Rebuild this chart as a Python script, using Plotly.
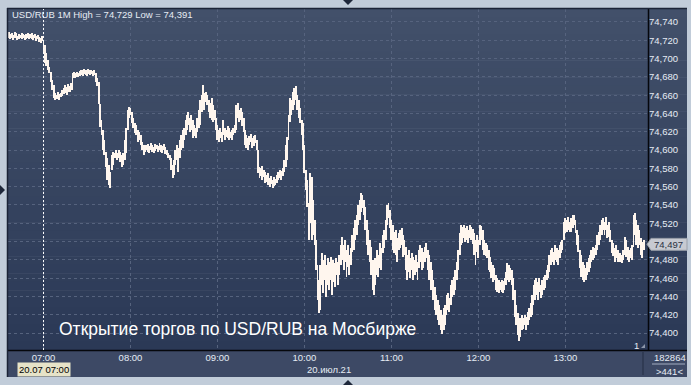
import plotly.graph_objects as go
import pandas as pd

# ---------------- data ----------------
START = "2021-07-20 06:36"          # first 1-minute bar
CURSOR_TIME = "2021-07-20 07:00"    # session open marker
TITLE = "USD/RUB 1M High = 74,729 Low = 74,391"
CAPTION = "Открытие торгов по USD/RUB на Мосбирже"
DATE_TEXT = "20.июл.21"
CURSOR_TEXT = "20.07 07:00"
VOLUME_TEXT = "182864"
COUNT_TEXT = ">441<"
LAST_PRICE = 74.497
LAST_TEXT = "74,497"

Y_TICKS = [74.40, 74.42, 74.44, 74.46, 74.48, 74.50, 74.52, 74.54, 74.56,
           74.58, 74.60, 74.62, 74.64, 74.66, 74.68, 74.70, 74.72, 74.74]
Y_TICK_TEXT = ["74,400", "74,420", "74,440", "74,460", "74,480", "", "74,520",
               "74,540", "74,560", "74,580", "74,600", "74,620", "74,640",
               "74,660", "74,680", "74,700", "74,720", "74,740"]

HIGHS = [
    74.729, 74.727, 74.728, 74.726, 74.729, 74.728, 74.725, 74.727, 74.726, 74.728,
    74.727, 74.726, 74.727, 74.728, 74.726, 74.727, 74.728, 74.726, 74.727, 74.725,
    74.726, 74.724, 74.723, 74.725,
    74.718, 74.715, 74.706, 74.698, 74.691, 74.685, 74.677, 74.671, 74.662, 74.660,
    74.663, 74.661, 74.662, 74.666, 74.668, 74.671, 74.669, 74.672, 74.670, 74.673,
    74.684, 74.685, 74.684, 74.685, 74.684, 74.686, 74.688, 74.687, 74.689, 74.687,
    74.688, 74.689, 74.687, 74.688, 74.686, 74.688, 74.684, 74.679, 74.674, 74.650,
    74.633, 74.622, 74.611, 74.598, 74.591, 74.584, 74.576, 74.595, 74.598, 74.597,
    74.600, 74.597, 74.600, 74.598, 74.595, 74.597, 74.611, 74.624, 74.644, 74.647,
    74.646, 74.642, 74.635, 74.630, 74.627, 74.622, 74.620, 74.616, 74.609, 74.606,
    74.602, 74.606, 74.607, 74.604, 74.608, 74.606, 74.603, 74.607, 74.606, 74.604,
    74.608, 74.606, 74.604, 74.607, 74.603, 74.600, 74.597, 74.595, 74.591, 74.584,
    74.589, 74.600, 74.606, 74.602, 74.611, 74.616, 74.622, 74.624, 74.633, 74.638,
    74.642, 74.635, 74.638, 74.633, 74.627, 74.624, 74.635, 74.644, 74.655, 74.660,
    74.671, 74.662, 74.663, 74.660, 74.655, 74.651, 74.657, 74.649, 74.644, 74.635,
    74.627, 74.622, 74.624, 74.620, 74.633, 74.624, 74.622, 74.626, 74.624, 74.620,
    74.622, 74.624, 74.627, 74.649, 74.651, 74.644, 74.646, 74.642, 74.635, 74.622,
    74.616, 74.613, 74.615, 74.618, 74.613, 74.615, 74.616, 74.611, 74.600, 74.582,
    74.580, 74.583, 74.578, 74.576, 74.573, 74.575, 74.569, 74.572, 74.567, 74.571,
    74.568, 74.573, 74.576, 74.578, 74.577, 74.580, 74.589, 74.606, 74.614, 74.638,
    74.657, 74.655, 74.663, 74.668, 74.670, 74.660, 74.655, 74.646, 74.633, 74.630,
    74.606, 74.578, 74.567, 74.542, 74.575, 74.571, 74.545, 74.524, 74.502, 74.474,
    74.458, 74.474, 74.488, 74.480, 74.485, 74.474, 74.482, 74.478, 74.483, 74.474,
    74.480, 74.477, 74.482, 74.478, 74.485, 74.496, 74.505, 74.496, 74.502, 74.491,
    74.496, 74.485, 74.493, 74.507, 74.515, 74.524, 74.529, 74.540, 74.545, 74.553,
    74.551, 74.545, 74.538, 74.524, 74.513, 74.502, 74.494, 74.480, 74.469, 74.482,
    74.491, 74.485, 74.498, 74.493, 74.507, 74.513, 74.524, 74.540, 74.542, 74.535,
    74.524, 74.518, 74.510, 74.513, 74.504, 74.509, 74.513, 74.515, 74.507, 74.502,
    74.494, 74.485, 74.491, 74.482, 74.487, 74.483, 74.480, 74.485, 74.478, 74.491,
    74.496, 74.493, 74.489, 74.494, 74.498, 74.491, 74.485, 74.478, 74.469, 74.458,
    74.450, 74.442, 74.436, 74.431, 74.425, 74.420, 74.427, 74.431, 74.442, 74.444,
    74.438, 74.453, 74.458, 74.461, 74.469, 74.478, 74.491, 74.509, 74.518, 74.516,
    74.518, 74.515, 74.517, 74.513, 74.518, 74.516, 74.514, 74.509, 74.502, 74.507,
    74.502, 74.518, 74.517, 74.513, 74.502, 74.498, 74.496, 74.491, 74.483, 74.478,
    74.474, 74.471, 74.463, 74.460, 74.458, 74.456, 74.458, 74.457, 74.460, 74.467,
    74.477, 74.474, 74.471, 74.469, 74.460, 74.447, 74.431, 74.422, 74.414, 74.416,
    74.420, 74.416, 74.420, 74.418, 74.423, 74.427, 74.433, 74.442, 74.453, 74.458,
    74.460, 74.456, 74.460, 74.453, 74.458, 74.461, 74.463, 74.469, 74.474, 74.485,
    74.491, 74.493, 74.489, 74.496, 74.493, 74.491, 74.496, 74.500, 74.502, 74.521,
    74.526, 74.524, 74.527, 74.521, 74.526, 74.529, 74.529, 74.524, 74.513, 74.507,
    74.491, 74.485, 74.478, 74.474, 74.471, 74.478, 74.482, 74.485, 74.491, 74.494,
    74.493, 74.496, 74.507, 74.510, 74.518, 74.524, 74.526, 74.521, 74.527, 74.518,
    74.521, 74.513, 74.502, 74.498, 74.493, 74.496, 74.491, 74.485, 74.487, 74.485,
    74.491, 74.505, 74.502, 74.494, 74.491, 74.493, 74.496, 74.529, 74.531, 74.524,
    74.518, 74.513, 74.504, 74.500, 74.502,
]

LOWS = [
    74.723, 74.721, 74.722, 74.720, 74.722, 74.723, 74.720, 74.721, 74.722, 74.721,
    74.722, 74.720, 74.721, 74.722, 74.721, 74.722, 74.721, 74.720, 74.722, 74.719,
    74.721, 74.718, 74.717, 74.719,
    74.706, 74.695, 74.692, 74.688, 74.684, 74.674, 74.666, 74.657, 74.655, 74.656,
    74.657, 74.655, 74.658, 74.659, 74.661, 74.662, 74.660, 74.663, 74.663, 74.666,
    74.666, 74.679, 74.679, 74.680, 74.680, 74.681, 74.682, 74.681, 74.683, 74.682,
    74.681, 74.683, 74.682, 74.683, 74.681, 74.682, 74.674, 74.670, 74.650, 74.625,
    74.616, 74.600, 74.595, 74.582, 74.567, 74.562, 74.559, 74.578, 74.584, 74.591,
    74.592, 74.589, 74.591, 74.587, 74.582, 74.584, 74.589, 74.597, 74.622, 74.635,
    74.638, 74.630, 74.624, 74.619, 74.616, 74.609, 74.611, 74.606, 74.600, 74.595,
    74.598, 74.600, 74.598, 74.597, 74.600, 74.598, 74.597, 74.599, 74.601, 74.598,
    74.600, 74.598, 74.597, 74.600, 74.596, 74.595, 74.591, 74.589, 74.578, 74.570,
    74.573, 74.584, 74.589, 74.576, 74.591, 74.600, 74.602, 74.611, 74.616, 74.622,
    74.627, 74.620, 74.622, 74.613, 74.615, 74.613, 74.620, 74.624, 74.627, 74.642,
    74.649, 74.644, 74.653, 74.649, 74.642, 74.635, 74.633, 74.631, 74.633, 74.622,
    74.611, 74.609, 74.613, 74.609, 74.616, 74.611, 74.614, 74.613, 74.611, 74.613,
    74.611, 74.616, 74.619, 74.622, 74.635, 74.631, 74.633, 74.626, 74.620, 74.606,
    74.602, 74.600, 74.606, 74.609, 74.602, 74.604, 74.608, 74.600, 74.575, 74.570,
    74.572, 74.567, 74.571, 74.564, 74.565, 74.562, 74.560, 74.563, 74.559, 74.561,
    74.562, 74.564, 74.567, 74.569, 74.567, 74.572, 74.576, 74.582, 74.589, 74.611,
    74.631, 74.638, 74.644, 74.649, 74.655, 74.644, 74.635, 74.630, 74.616, 74.600,
    74.575, 74.556, 74.538, 74.502, 74.520, 74.502, 74.507, 74.496, 74.469, 74.436,
    74.422, 74.425, 74.453, 74.444, 74.458, 74.439, 74.453, 74.447, 74.458, 74.442,
    74.456, 74.450, 74.463, 74.453, 74.463, 74.474, 74.480, 74.469, 74.478, 74.461,
    74.472, 74.463, 74.474, 74.489, 74.491, 74.502, 74.507, 74.518, 74.524, 74.532,
    74.537, 74.529, 74.513, 74.496, 74.485, 74.478, 74.463, 74.447, 74.442, 74.453,
    74.463, 74.461, 74.471, 74.469, 74.488, 74.493, 74.502, 74.518, 74.526, 74.515,
    74.502, 74.491, 74.488, 74.485, 74.478, 74.491, 74.493, 74.496, 74.483, 74.485,
    74.469, 74.458, 74.467, 74.460, 74.469, 74.458, 74.463, 74.467, 74.458, 74.471,
    74.478, 74.469, 74.471, 74.478, 74.482, 74.469, 74.458, 74.447, 74.449, 74.436,
    74.425, 74.420, 74.414, 74.409, 74.403, 74.399, 74.403, 74.409, 74.420, 74.425,
    74.423, 74.431, 74.439, 74.442, 74.447, 74.458, 74.469, 74.485, 74.496, 74.498,
    74.504, 74.500, 74.502, 74.498, 74.504, 74.502, 74.497, 74.485, 74.474, 74.489,
    74.482, 74.496, 74.502, 74.491, 74.485, 74.484, 74.482, 74.469, 74.467, 74.460,
    74.456, 74.458, 74.447, 74.445, 74.444, 74.447, 74.445, 74.444, 74.447, 74.453,
    74.458, 74.456, 74.458, 74.453, 74.436, 74.418, 74.409, 74.398, 74.391, 74.396,
    74.403, 74.405, 74.409, 74.403, 74.409, 74.414, 74.418, 74.420, 74.431, 74.436,
    74.442, 74.436, 74.445, 74.438, 74.442, 74.447, 74.449, 74.458, 74.460, 74.467,
    74.474, 74.478, 74.474, 74.480, 74.478, 74.474, 74.482, 74.488, 74.491, 74.502,
    74.509, 74.511, 74.513, 74.511, 74.511, 74.515, 74.518, 74.509, 74.496, 74.489,
    74.471, 74.461, 74.458, 74.456, 74.458, 74.463, 74.467, 74.471, 74.478, 74.480,
    74.482, 74.485, 74.491, 74.496, 74.502, 74.507, 74.513, 74.507, 74.513, 74.504,
    74.505, 74.500, 74.488, 74.484, 74.478, 74.482, 74.478, 74.478, 74.478, 74.477,
    74.480, 74.485, 74.483, 74.480, 74.478, 74.482, 74.480, 74.494, 74.507, 74.496,
    74.493, 74.496, 74.485, 74.482, 74.491,
]

Y_RANGE = [74.3815, 74.7542]
X_RANGE = ["2021-07-20 06:35:30", "2021-07-20 13:57:00"]

# ---------------- layout helpers (pixel -> paper) ----------------
W, H = 691, 385
L_PX, R_PX, T_PX, B_PX = 8, 648, 9, 350      # plot area in pixels
PANEL_R = 686                                 # right edge of the price panel
PANEL_B = 376                                 # bottom edge of the time panel


def px(x):
    return (x - L_PX) / (R_PX - L_PX)


def py(y):
    return (B_PX - y) / (B_PX - T_PX)


FONT = "Liberation Sans, Arial, sans-serif"
TXT = "#e6ecf4"

times = pd.date_range(START, periods=len(HIGHS), freq="min")
spans = [h - l for h, l in zip(HIGHS, LOWS)]

fig = go.Figure(
    go.Bar(
        x=times,
        base=LOWS,
        y=spans,
        width=40000,
        marker=dict(color="#fff6ee", line=dict(width=0)),
        hoverinfo="skip",
    )
)

shapes = []
# gradient background of chart + price panel
top_rgb = (66, 80, 106)
bot_rgb = (43, 57, 86)
n_bands = 40
for i in range(n_bands):
    t = i / (n_bands - 1)
    c = tuple(round(top_rgb[k] + (bot_rgb[k] - top_rgb[k]) * t) for k in range(3))
    y0 = T_PX + (B_PX - T_PX) * i / n_bands
    y1 = T_PX + (B_PX - T_PX) * (i + 1) / n_bands
    shapes.append(dict(type="rect", xref="paper", yref="paper", layer="below",
                       x0=px(L_PX), x1=px(PANEL_R + 1), y0=py(y1 + 0.5), y1=py(y0),
                       fillcolor="rgb(%d,%d,%d)" % c, line=dict(width=0)))
# time panel
shapes.append(dict(type="rect", xref="paper", yref="paper", layer="below",
                   x0=px(L_PX), x1=px(PANEL_R + 1), y0=py(PANEL_B + 1), y1=py(B_PX),
                   fillcolor="#3d4965", line=dict(width=0)))
# frame lines
shapes += [
    dict(type="line", xref="paper", yref="paper", x0=px(L_PX), x1=px(PANEL_R + 1),
         y0=py(B_PX + 0.5), y1=py(B_PX + 0.5), line=dict(color="#05070c", width=1.5)),
    dict(type="line", xref="paper", yref="paper", x0=px(R_PX + 0.5), x1=px(R_PX + 0.5),
         y0=py(T_PX), y1=py(B_PX), line=dict(color="#05070c", width=1.5)),
    dict(type="line", xref="paper", yref="paper", x0=px(L_PX - 0.5), x1=px(L_PX - 0.5),
         y0=py(T_PX - 1), y1=py(PANEL_B + 1), line=dict(color="#1b2336", width=1.5)),
    dict(type="line", xref="paper", yref="paper", x0=px(L_PX - 1), x1=px(PANEL_R + 1),
         y0=py(T_PX - 0.5), y1=py(T_PX - 0.5), line=dict(color="#1b2336", width=1.5)),
    dict(type="line", xref="paper", yref="paper", x0=px(643), x1=px(643),
         y0=py(352), y1=py(375), line=dict(color="#252e45", width=1)),
    dict(type="line", xref="paper", yref="paper", x0=px(652), x1=px(685),
         y0=py(364), y1=py(364), line=dict(color="#a3aec2", width=1)),
]
# session-open cursor
shapes.append(dict(type="line", xref="x", yref="paper", x0=CURSOR_TIME, x1=CURSOR_TIME,
                   y0=0, y1=1, line=dict(color="#ffffff", width=1, dash="2px,2px")))
# last price marker box
shapes.append(dict(type="path", xref="paper", yref="y",
                   path="M %f,%f L %f,%f L %f,%f L %f,%f L %f,%f Z" % (
                       px(647), LAST_PRICE,
                       px(651), LAST_PRICE + 0.0065,
                       px(PANEL_R + 1), LAST_PRICE + 0.0065,
                       px(PANEL_R + 1), LAST_PRICE - 0.0065,
                       px(651), LAST_PRICE - 0.0065),
                   fillcolor="#c7cad1", line=dict(color="#9aa0aa", width=1)))


# little navigation triangles on the frame
def tri(points, color="#1e273a"):
    d = "M " + " L ".join("%f,%f" % (px(a), py(b)) for a, b in points) + " Z"
    return dict(type="path", xref="paper", yref="paper", path=d,
                fillcolor=color, line=dict(width=0))


shapes += [
    tri([(343, 0), (353, 0), (348, 5)]),
    tri([(343, 385), (353, 385), (348, 380)]),
    tri([(0, 185), (0, 195), (5, 190)]),
    tri([(641, 348), (645, 348), (645, 344)], "#8d97aa"),
]

annotations = [
    dict(xref="paper", yref="paper", x=px(10), y=py(15), xanchor="left", yanchor="middle",
         text=TITLE, showarrow=False, font=dict(family=FONT, size=9.5, color=TXT)),
    dict(xref="paper", yref="paper", x=px(237), y=py(329), xanchor="center", yanchor="middle",
         text=CAPTION, showarrow=False, font=dict(family=FONT, size=17.5, color="#ffffff")),
    dict(xref="x", yref="paper", x=CURSOR_TIME, y=py(369.5), xanchor="center", yanchor="middle",
         text=CURSOR_TEXT, showarrow=False, bgcolor="#e6e3c8", borderpad=1,
         font=dict(family=FONT, size=9.5, color="#000000")),
    dict(xref="paper", yref="paper", x=px(329), y=py(369.5), xanchor="center", yanchor="middle",
         text=DATE_TEXT, showarrow=False, font=dict(family=FONT, size=9.5, color=TXT)),
    dict(xref="paper", yref="paper", x=px(669.5), y=py(357.5), xanchor="center", yanchor="middle",
         text=VOLUME_TEXT, showarrow=False, font=dict(family=FONT, size=9.5, color=TXT)),
    dict(xref="paper", yref="paper", x=px(669.5), y=py(371), xanchor="center", yanchor="middle",
         text=COUNT_TEXT, showarrow=False, font=dict(family=FONT, size=9.5, color=TXT)),
    dict(xref="paper", yref="paper", x=px(636), y=py(345.5), xanchor="center", yanchor="middle",
         text="1", showarrow=False, font=dict(family=FONT, size=9.5, color=TXT)),
    dict(xref="paper", yref="y", x=px(668.5), y=LAST_PRICE, xanchor="center", yanchor="middle",
         text=LAST_TEXT, showarrow=False, font=dict(family=FONT, size=9.5, color="#2a3142")),
]

GRID = "#56637e"
fig.update_layout(
    width=W, height=H,
    margin=dict(l=L_PX, r=W - R_PX, t=T_PX, b=H - B_PX, pad=0),
    paper_bgcolor="#c1ccd9",
    plot_bgcolor="rgba(0,0,0,0)",
    separators=", ",
    showlegend=False,
    bargap=0,
    shapes=shapes,
    annotations=annotations,
    xaxis=dict(type="date", range=X_RANGE, tick0="2021-07-20 07:00", dtick=3600000,
               tickformat="%H:%M", showgrid=True, gridcolor=GRID, griddash="3px,3px",
               gridwidth=1, zeroline=False, showline=False, ticks="",
               tickfont=dict(family=FONT, size=9.5, color=TXT), fixedrange=True),
    yaxis=dict(side="right", range=Y_RANGE, tickmode="array", tickvals=Y_TICKS,
               ticktext=Y_TICK_TEXT,
               showgrid=True, gridcolor=GRID, griddash="3px,3px", gridwidth=1,
               zeroline=False, showline=False, ticks="",
               tickfont=dict(family=FONT, size=9.5, color=TXT), fixedrange=True),
)

fig.write_html("out.html")
